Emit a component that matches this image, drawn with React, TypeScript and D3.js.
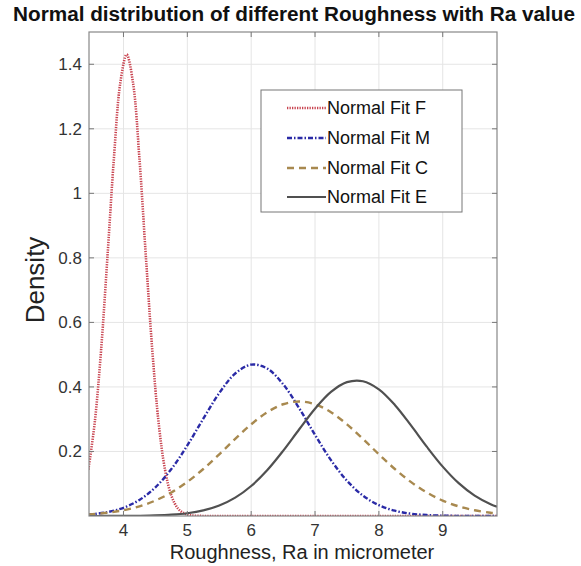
import React from "react";
import * as d3 from "d3";

// Roughness (Ra, micrometer) sample positions for the wide fits
const xWide = [3.45, 3.75, 4.0, 4.25, 4.5, 4.75, 5.0, 5.25, 5.5, 5.75, 6.0, 6.25, 6.5, 6.75, 7.0, 7.25, 7.5, 7.75, 8.0, 8.25, 8.5, 8.75, 9.0, 9.25, 9.5, 9.75, 9.85];
// Sample positions for the narrow fit F
const xF = [3.45, 3.55, 3.65, 3.75, 3.85, 3.95, 4.05, 4.15, 4.25, 4.35, 4.45, 4.55, 4.65, 4.75, 4.85, 4.95, 5.05, 5.25, 5.5, 6.0, 7.0, 8.0, 9.0, 9.85];

const densityF = [0.144, 0.29, 0.516, 0.806, 1.108, 1.342, 1.43, 1.342, 1.108, 0.806, 0.516, 0.29, 0.144, 0.063, 0.024, 0.0082, 0.0024, 0.0001, 0, 0, 0, 0, 0, 0];
const densityM = [0.0043, 0.012, 0.0255, 0.0497, 0.0888, 0.1456, 0.2187, 0.3015, 0.381, 0.4416, 0.4692, 0.4571, 0.4084, 0.3345, 0.2513, 0.1731, 0.1093, 0.0633, 0.0336, 0.0164, 0.0073, 0.003, 0.0011, 0.0004, 0.0001, 0, 0];
const densityC = [0.0048, 0.0101, 0.0178, 0.0299, 0.0479, 0.0729, 0.1057, 0.1457, 0.1913, 0.239, 0.2841, 0.3216, 0.3463, 0.355, 0.3463, 0.3216, 0.2841, 0.239, 0.1913, 0.1457, 0.1057, 0.0729, 0.0479, 0.0299, 0.0178, 0.0101, 0.0079];
const densityE = [0, 0.0001, 0.0003, 0.0007, 0.0017, 0.004, 0.0086, 0.0173, 0.0324, 0.0568, 0.093, 0.1418, 0.2019, 0.2681, 0.3324, 0.3844, 0.4148, 0.4177, 0.3925, 0.3441, 0.2814, 0.2148, 0.153, 0.1017, 0.0631, 0.0365, 0.0288];

const seriesNames = ["Normal Fit F", "Normal Fit M", "Normal Fit C", "Normal Fit E"];
const xTicks = [4, 5, 6, 7, 8, 9];
const yTicks = [0.2, 0.4, 0.6, 0.8, 1, 1.2, 1.4];

const W = 581;
const H = 566;
const L = 89, R = 497, T = 32, B = 516;
const FONT = "'Liberation Sans', Arial, Helvetica, sans-serif";

export default function App() {
  const x = d3.scaleLinear().domain([3.46, 9.85]).range([L, R]);
  const y = d3.scaleLinear().domain([0, 1.5]).range([B, T]);

  const mk = (xs: number[], ys: number[]) =>
    d3
      .line<number>()
      .x((_, i) => x(xs[i]))
      .y((v) => y(v))
      .curve(d3.curveCatmullRom.alpha(0.5))(ys) as string;

  const series = [
    { name: seriesNames[0], d: mk(xF, densityF), color: "#c8434f", width: 2.6, dash: "1.3 1.2" },
    { name: seriesNames[1], d: mk(xWide, densityM), color: "#2a2aa6", width: 2.4, dash: "5 2 1.5 2" },
    { name: seriesNames[2], d: mk(xWide, densityC), color: "#a8894f", width: 2.4, dash: "7 5" },
    { name: seriesNames[3], d: mk(xWide, densityE), color: "#505050", width: 2.2, dash: "none" },
  ];

  const legX = 261, legY = 90, legW = 201, legH = 122;
  const rowY = [108, 138, 168, 197];

  return (
    <svg
      width={W}
      height={H}
      style={{ position: "absolute", left: 0, top: 0, background: "#fff" }}
      fontFamily={FONT}
    >
      <rect x={0} y={0} width={W} height={H} fill="#fff" />
      <text
        x={294}
        y={21}
        textAnchor="middle"
        fontSize={20}
        fontWeight="bold"
        fill="#111"
        textLength={562}
        lengthAdjust="spacingAndGlyphs"
      >
        Normal distribution of different Roughness with Ra value
      </text>

      <defs>
        <clipPath id="plotclip">
          <rect x={L} y={T} width={R - L} height={B - T} />
        </clipPath>
      </defs>

      {/* grid */}
      {xTicks.map((t) => (
        <line key={"gx" + t} x1={x(t)} x2={x(t)} y1={T} y2={B} stroke="#e5e5e5" strokeWidth={1} />
      ))}
      {yTicks.map((t) => (
        <line key={"gy" + t} x1={L} x2={R} y1={y(t)} y2={y(t)} stroke="#e5e5e5" strokeWidth={1} />
      ))}

      {/* curves */}
      <g clipPath="url(#plotclip)">
        {series.map((s) => (
          <path
            key={s.name}
            d={s.d}
            fill="none"
            stroke={s.color}
            strokeWidth={s.width}
            strokeDasharray={s.dash}
          />
        ))}
      </g>

      {/* frame */}
      <rect x={L} y={T} width={R - L} height={B - T} fill="none" stroke="#888" strokeWidth={1.2} />

      {/* ticks */}
      {xTicks.map((t) => (
        <g key={"tx" + t}>
          <line x1={x(t)} x2={x(t)} y1={B} y2={B - 5} stroke="#777" />
          <line x1={x(t)} x2={x(t)} y1={T} y2={T + 5} stroke="#777" />
          <text x={x(t)} y={536} textAnchor="middle" fontSize={17} fill="#333">
            {t}
          </text>
        </g>
      ))}
      {yTicks.map((t) => (
        <g key={"ty" + t}>
          <line x1={L} x2={L + 5} y1={y(t)} y2={y(t)} stroke="#777" />
          <line x1={R} x2={R - 5} y1={y(t)} y2={y(t)} stroke="#777" />
          <text x={82} y={y(t) + 6} textAnchor="end" fontSize={17} fill="#333">
            {t}
          </text>
        </g>
      ))}

      {/* axis labels */}
      <text x={302} y={559} textAnchor="middle" fontSize={20} fill="#222">
        Roughness, Ra in micrometer
      </text>
      <text
        transform="translate(44,280) rotate(-90)"
        textAnchor="middle"
        fontSize={26}
        fill="#222"
      >
        Density
      </text>

      {/* legend */}
      <rect x={legX} y={legY} width={legW} height={legH} fill="#fff" stroke="#777" strokeWidth={1} />
      {series.map((s, i) => (
        <g key={"lg" + i}>
          <line
            x1={287}
            x2={326}
            y1={rowY[i]}
            y2={rowY[i]}
            stroke={s.color}
            strokeWidth={s.width}
            strokeDasharray={s.dash}
          />
          <text x={327} y={rowY[i] + 6} fontSize={18} fill="#111">
            {s.name}
          </text>
        </g>
      ))}
    </svg>
  );
}
